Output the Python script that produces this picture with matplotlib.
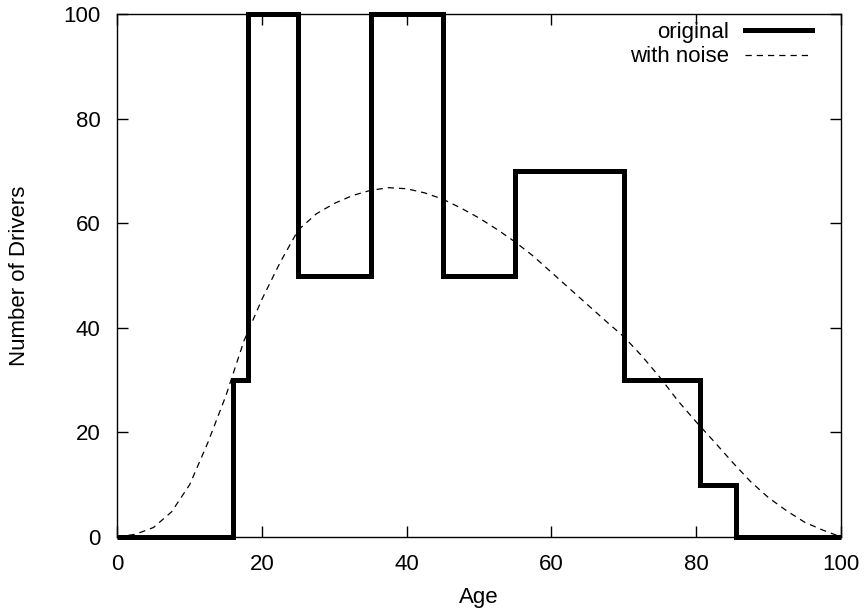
import numpy as np
import matplotlib.pyplot as plt

plt.rcParams['font.family'] = ['Liberation Sans', 'DejaVu Sans']

# original histogram (bin edges and counts)
age_edges = [0, 16, 18, 25, 35, 45, 55, 70, 80.5, 85.5, 100]
drivers = [0, 30, 100, 50, 100, 50, 70, 30, 10, 0]

# smoothed "with noise" curve
noise_age = [0, 2.5, 5, 7.5, 10, 12.5, 15, 17.5, 20, 22.5, 25, 27.5, 30, 32.5,
             35, 37.5, 40, 42.5, 45, 47.5, 50, 52.5, 55, 57.5, 60, 62.5, 65,
             67.5, 70, 72.5, 75, 77.5, 80, 82.5, 85, 87.5, 90, 92.5, 95, 97.5, 100]
noise_drivers = [0, 0.5, 1.8, 4.8, 10, 18, 27, 37.5, 45.5, 52.5, 58.7, 61.8, 63.8,
                 65.3, 66.3, 66.8, 66.6, 65.8, 64.6, 62.9, 61, 58.8, 56.4, 53.7,
                 50.6, 47.5, 44.4, 41.3, 38.3, 34.6, 30.5, 26, 22, 18.2, 14.3,
                 10.6, 7.5, 5, 2.8, 1.3, 0]

fig = plt.figure(figsize=(8.66, 6.15), dpi=100)
ax = fig.add_axes([0.1355, 0.127, 0.8355, 0.85])

ax.stairs(drivers, age_edges, color='black', lw=3.6, label='original', clip_on=False)
ax.plot(noise_age, noise_drivers, color='black', lw=0.9, dashes=(5, 4), label='with noise')

ax.set_xlim(0, 100)
ax.set_ylim(0, 100)
ax.set_xticks(np.arange(0, 101, 20))
ax.set_yticks(np.arange(0, 101, 20))
ax.tick_params(direction='in', length=8, width=1, top=True, right=True,
               labelsize=16, pad=12)
for s in ax.spines.values():
    s.set_linewidth(1)

ax.set_xlabel('Age', fontsize=16, labelpad=9)
ax.set_ylabel('Number of Drivers', fontsize=16, labelpad=24)

ax.legend(loc='upper right', bbox_to_anchor=(0.960, 0.985), frameon=False,
          fontsize=16, markerfirst=False, handlelength=3.0, handletextpad=0.75,
          labelspacing=0.15, borderpad=0, borderaxespad=0)

fig.savefig('out.png', dpi=100)
